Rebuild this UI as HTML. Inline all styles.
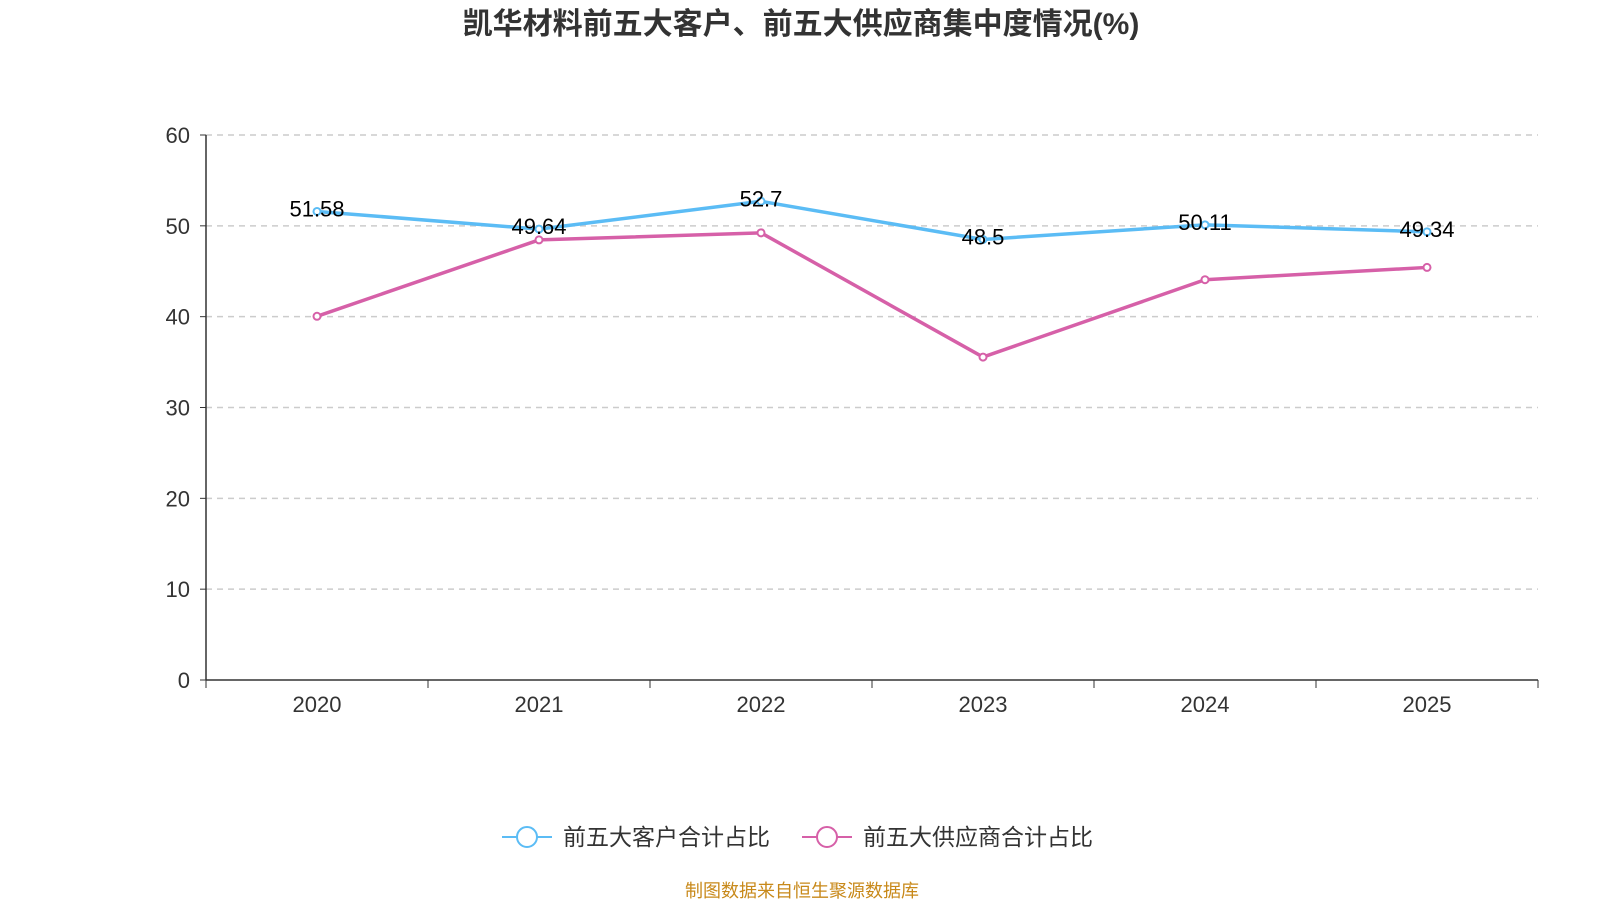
<!DOCTYPE html>
<html><head><meta charset="utf-8">
<style>
html,body{margin:0;padding:0;background:#fff;}
body{width:1600px;height:900px;overflow:hidden;font-family:"Liberation Sans","Noto Sans CJK SC",sans-serif;}
</style></head>
<body>
<svg id="chart" width="1600" height="900" xmlns="http://www.w3.org/2000/svg" font-family="'Liberation Sans','Noto Sans CJK SC',sans-serif">
<text x="801" y="34" text-anchor="middle" font-size="30" font-weight="bold" fill="#333">凯华材料前五大客户、前五大供应商集中度情况(%)</text>
<g id="grid"></g><g id="axes"></g><g id="series"></g>
<g>
<g>
<line x1="502" y1="837" x2="552" y2="837" stroke="#5bbcf5" stroke-width="2"/>
<circle cx="527" cy="837" r="10" fill="#fff" stroke="#5bbcf5" stroke-width="2"/>
<text x="563" y="845" font-size="23" fill="#333">前五大客户合计占比</text></g>
<g>
<line x1="802" y1="837" x2="852" y2="837" stroke="#d660a8" stroke-width="2"/>
<circle cx="827" cy="837" r="10" fill="#fff" stroke="#d660a8" stroke-width="2"/>
<text x="863" y="845" font-size="23" fill="#333">前五大供应商合计占比</text></g>
</g>
<text x="802" y="897" text-anchor="middle" font-size="18" fill="#c8891a">制图数据来自恒生聚源数据库</text>
</svg>
<script>
const categories=["2020","2021","2022","2023","2024","2025"];
const customers=[51.58,49.64,52.7,48.5,50.11,49.34];
const suppliers=[40.04,48.45,49.23,35.55,44.07,45.42];
const yTicks=[0,10,20,30,40,50,60];
const NS="http://www.w3.org/2000/svg";
const L=206,R=1538,T=135,B=680,yMax=60;
const band=(R-L)/categories.length;
const x=i=>L+band*(i+0.5);
const y=v=>B-(v/yMax)*(B-T);
function mk(tag,attrs,parent,text){const e=document.createElementNS(NS,tag);for(const k in attrs)e.setAttribute(k,attrs[k]);if(text!==undefined)e.textContent=text;parent.appendChild(e);return e;}
const grid=document.getElementById('grid'),axes=document.getElementById('axes'),ser=document.getElementById('series');
yTicks.forEach(t=>{
 if(t>0){const g=mk('line',{x1:L,x2:R,y1:y(t),y2:y(t),stroke:'#ccc','stroke-dasharray':'6,5','stroke-width':1.5},grid);
 
 }
 const tk=mk('line',{x1:L-6,x2:L,y1:y(t),y2:y(t),stroke:'#333'},axes);
 
 
 const lb=mk('text',{x:L-16,y:y(t)+8,'text-anchor':'end','font-size':22,fill:'#333'},axes,String(t));
 
 
});
const ya=mk('line',{x1:L,x2:L,y1:T,y2:B,stroke:'#333','stroke-width':1.5},axes);


const xa=mk('line',{x1:L,x2:R,y1:B,y2:B,stroke:'#333','stroke-width':1.5},axes);


for(let i=0;i<=categories.length;i++){const t=mk('line',{x1:L+band*i,x2:L+band*i,y1:B,y2:B+8,stroke:'#333'},axes);
 
 }
categories.forEach((c,i)=>{const t=mk('text',{x:x(i),y:B+32,'text-anchor':'middle','font-size':22,fill:'#333'},axes,c);
 
 });
function draw(data,color,name,labels){
 const p=mk('polyline',{points:data.map((v,i)=>x(i)+','+y(v)).join(' '),fill:'none',stroke:color,'stroke-width':3.5},ser);
 
 
 data.forEach((v,i)=>{
  const c=mk('circle',{cx:x(i),cy:y(v),r:3.5,fill:'#fff',stroke:color,'stroke-width':2},ser);
  
  
  if(labels){const t=mk('text',{x:x(i),y:y(v)+5,'text-anchor':'middle','font-size':22,fill:'#000'},ser,String(v));
   
   }
 });
}
draw(suppliers,'#d660a8','suppliers',false);
draw(customers,'#5bbcf5','customers',true);
</script>
</body></html>
